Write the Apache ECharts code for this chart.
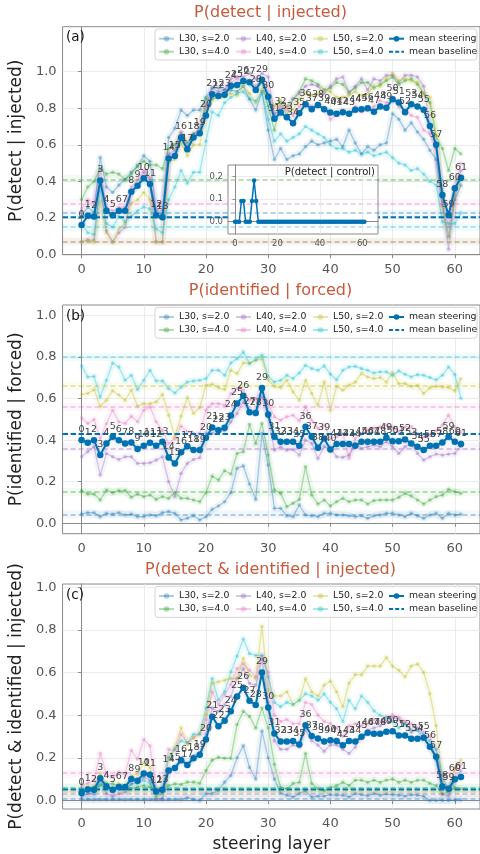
<!DOCTYPE html>
<html>
<head>
<meta charset="utf-8">
<script src="https://cdn.jsdelivr.net/npm/echarts@6/dist/echarts.min.js"></script>
<style>
  html, body { margin: 0; padding: 0; background: #ffffff; }
  #chart { width: 480px; height: 854px; }
</style>
</head>
<body>
<div id="chart"></div>
<script>
// ---- data ---------------------------------------------------------------
const layers = Array.from({ length: 62 }, (_, i) => i);
const seriesNames = ['L30, s=2.0', 'L30, s=4.0', 'L40, s=2.0', 'L40, s=4.0', 'L50, s=2.0', 'L50, s=4.0'];
const xTickLabels = [0, 10, 20, 30, 40, 50, 60];
const yTickLabels = [0, 0.2, 0.4, 0.6, 0.8, 1.0];
const insetXTickLabels = [0, 20, 40, 60];
const insetYTickLabels = [0, 0.1, 0.2];

// (a) P(detect | injected)
const detectL30s2 = [0.21,0.26,0.23,0.53,0.37,0.34,0.38,0.41,0.45,0.48, 0.54,0.51,0.24,0.22,0.64,0.69,0.79,0.76,0.79,0.79, 0.86,0.91,0.91,0.90,0.90,0.89,0.92,0.85,0.79,0.89, 0.68,0.52,0.58,0.52,0.54,0.55,0.59,0.62,0.60,0.61, 0.62,0.63,0.59,0.68,0.61,0.55,0.59,0.57,0.60,0.61, 0.77,0.74,0.68,0.72,0.67,0.63,0.57,0.52,0.27,0.10, 0.30,0.38];
const detectL30s4 = [0.30,0.37,0.40,0.47,0.44,0.45,0.44,0.41,0.44,0.49, 0.51,0.49,0.49,0.47,0.58,0.60,0.66,0.61,0.66,0.67, 0.85,0.85,0.86,0.88,0.91,0.92,0.94,0.94,0.90,0.94, 0.81,0.68,0.83,0.76,0.85,0.89,0.96,0.95,0.93,0.90, 0.91,0.94,0.93,0.89,0.91,0.94,0.94,0.91,0.93,0.95, 0.97,0.93,0.95,0.96,0.93,0.88,0.83,0.65,0.58,0.46, 0.58,0.55];
const detectL40s2 = [0.07,0.08,0.08,0.40,0.13,0.07,0.12,0.15,0.34,0.38, 0.45,0.41,0.07,0.07,0.55,0.57,0.67,0.59,0.66,0.69, 0.81,0.91,0.89,0.90,0.96,0.97,0.97,0.99,0.96,0.99, 0.97,0.77,0.79,0.81,0.85,0.88,0.92,0.93,0.92,0.88, 0.92,0.96,0.97,0.88,0.92,0.96,0.90,0.96,0.95,0.98, 0.98,0.94,0.98,0.98,0.97,0.92,0.70,0.59,0.28,0.03, 0.32,0.46];
const detectL40s4 = [0.25,0.30,0.28,0.46,0.26,0.24,0.26,0.26,0.37,0.41, 0.46,0.42,0.25,0.24,0.55,0.55,0.66,0.57,0.65,0.67, 0.81,0.89,0.88,0.88,0.94,0.96,0.96,0.95,0.92,0.96, 0.88,0.76,0.81,0.79,0.76,0.81,0.83,0.81,0.82,0.80, 0.74,0.76,0.79,0.77,0.81,0.78,0.79,0.81,0.84,0.83, 0.85,0.81,0.79,0.76,0.75,0.68,0.66,0.58,0.30,0.15, 0.35,0.50];
const detectL50s2 = [0.07,0.08,0.07,0.29,0.12,0.07,0.14,0.17,0.28,0.30, 0.34,0.30,0.07,0.07,0.50,0.52,0.61,0.54,0.60,0.60, 0.79,0.86,0.86,0.86,0.88,0.87,0.92,0.88,0.83,0.90, 0.86,0.81,0.84,0.81,0.79,0.85,0.88,0.87,0.88,0.90, 0.89,0.86,0.86,0.87,0.89,0.87,0.88,0.92,0.92,0.96, 0.99,0.95,0.96,0.95,0.94,0.88,0.86,0.65,0.26,0.10, 0.32,0.41];
const detectL50s4 = [0.17,0.12,0.11,0.35,0.17,0.15,0.21,0.18,0.21,0.24, 0.26,0.25,0.14,0.12,0.30,0.37,0.46,0.39,0.45,0.45, 0.62,0.78,0.76,0.83,0.86,0.88,0.89,0.85,0.84,0.88, 0.74,0.62,0.66,0.62,0.64,0.66,0.70,0.68,0.66,0.64, 0.60,0.58,0.58,0.56,0.57,0.55,0.56,0.54,0.55,0.56, 0.53,0.50,0.49,0.46,0.47,0.44,0.40,0.38,0.18,0.17, 0.17,0.23];
const detectMean = [0.162,0.213,0.208,0.405,0.240,0.215,0.240,0.240,0.344,0.377, 0.417,0.386,0.215,0.204,0.525,0.539,0.640,0.576,0.640,0.663, 0.760,0.876,0.867,0.874,0.922,0.927,0.949,0.942,0.900,0.955, 0.863,0.742,0.776,0.750,0.718,0.773,0.822,0.794,0.818,0.794, 0.776,0.770,0.778,0.770,0.791,0.794,0.800,0.781,0.809,0.803, 0.849,0.831,0.778,0.822,0.809,0.791,0.703,0.600,0.326,0.217, 0.363,0.420];
const detectBaseline = [0.226, 0.414, 0.071, 0.284, 0.075, 0.148];
const detectBaselineMean = 0.204;

// inset: P(detect | control)
const detectControl = [0,0,0,0.0909,0.0909,0,0,0,0.0909,0.1818, 0.0909,0,0,0,0,0,0,0,0,0, 0,0,0,0,0,0,0,0,0,0, 0,0,0,0,0,0,0,0,0,0, 0,0,0,0,0,0,0,0,0,0, 0,0,0,0,0,0,0,0,0,0, 0,0];

// (b) P(identified | forced)
const identL30s2 = [0.044,0.051,0.051,0.032,0.048,0.044,0.051,0.040,0.044,0.032, 0.032,0.040,0.036,0.051,0.056,0.048,0.016,0.024,0.036,0.016, 0.032,0.067,0.083,0.104,0.147,0.264,0.276,0.189,0.115,0.432, 0.280,0.072,0.072,0.036,0.032,0.088,0.040,0.036,0.032,0.048, 0.048,0.040,0.040,0.036,0.032,0.036,0.024,0.036,0.040,0.048, 0.048,0.040,0.032,0.048,0.036,0.024,0.040,0.048,0.024,0.048, 0.040,0.044];
const identL30s4 = [0.157,0.141,0.141,0.112,0.160,0.147,0.157,0.157,0.125,0.140, 0.128,0.136,0.115,0.128,0.120,0.147,0.120,0.120,0.112,0.104, 0.147,0.227,0.208,0.253,0.237,0.336,0.344,0.475,0.384,0.480, 0.328,0.160,0.144,0.080,0.096,0.115,0.272,0.136,0.093,0.112, 0.083,0.104,0.120,0.104,0.112,0.112,0.093,0.109,0.112,0.112, 0.112,0.125,0.144,0.131,0.112,0.093,0.112,0.128,0.136,0.163, 0.152,0.144];
const identL40s2 = [0.320,0.344,0.368,0.232,0.336,0.320,0.307,0.320,0.320,0.288, 0.288,0.291,0.304,0.320,0.200,0.128,0.240,0.288,0.307,0.315, 0.435,0.432,0.451,0.445,0.488,0.528,0.584,0.536,0.528,0.608, 0.512,0.352,0.368,0.352,0.355,0.328,0.400,0.384,0.312,0.368, 0.360,0.320,0.317,0.328,0.384,0.360,0.368,0.376,0.368,0.392, 0.368,0.336,0.368,0.381,0.336,0.304,0.320,0.333,0.328,0.333, 0.336,0.371];
const identL40s4 = [0.507,0.480,0.499,0.408,0.480,0.544,0.488,0.480,0.515,0.488, 0.544,0.560,0.488,0.448,0.384,0.408,0.467,0.440,0.432,0.432, 0.544,0.576,0.576,0.568,0.624,0.648,0.640,0.592,0.600,0.640, 0.576,0.512,0.496,0.512,0.520,0.493,0.560,0.496,0.456,0.472, 0.408,0.416,0.432,0.312,0.408,0.432,0.448,0.456,0.464,0.472, 0.459,0.440,0.464,0.464,0.432,0.416,0.424,0.445,0.472,0.520, 0.464,0.440];
const identL50s2 = [0.621,0.624,0.643,0.563,0.592,0.637,0.617,0.592,0.640,0.563, 0.576,0.576,0.584,0.620,0.520,0.416,0.515,0.605,0.528,0.557, 0.664,0.669,0.653,0.643,0.736,0.720,0.771,0.771,0.784,0.792, 0.690,0.659,0.653,0.688,0.632,0.592,0.688,0.624,0.568,0.680, 0.544,0.659,0.640,0.664,0.680,0.720,0.704,0.696,0.701,0.680, 0.723,0.672,0.672,0.659,0.663,0.624,0.652,0.659,0.656,0.653, 0.637,0.696];
const identL50s4 = [0.757,0.704,0.707,0.608,0.688,0.771,0.752,0.688,0.712,0.643, 0.688,0.736,0.685,0.685,0.648,0.627,0.656,0.680,0.685,0.688, 0.696,0.736,0.736,0.712,0.771,0.792,0.824,0.768,0.787,0.808, 0.707,0.680,0.688,0.712,0.696,0.723,0.760,0.744,0.736,0.757, 0.717,0.690,0.736,0.752,0.755,0.744,0.736,0.723,0.728,0.728, 0.712,0.733,0.717,0.704,0.715,0.712,0.701,0.690,0.712,0.752, 0.715,0.600];
const identMean = [0.401,0.387,0.400,0.328,0.384,0.416,0.400,0.384,0.389,0.357, 0.373,0.387,0.373,0.392,0.317,0.288,0.342,0.371,0.352,0.352, 0.411,0.461,0.448,0.459,0.518,0.576,0.613,0.534,0.531,0.651, 0.523,0.416,0.392,0.392,0.392,0.373,0.464,0.416,0.363,0.408, 0.355,0.381,0.381,0.381,0.373,0.392,0.392,0.392,0.392,0.411, 0.395,0.395,0.403,0.384,0.368,0.352,0.373,0.373,0.389,0.416, 0.392,0.381];
const identBaseline = [0.043, 0.150, 0.365, 0.560, 0.659, 0.800];
const identBaselineMean = 0.429;

// (c) P(detect & identified | injected)
const bothL30s2 = [0.005,0.005,0.005,0.005,0.005,0.005,0.005,0.005,0.005,0.005, 0.005,0.005,0.005,0.005,0.005,0.005,0.005,0.013,0.005,0.000, 0.032,0.032,0.047,0.086,0.117,0.200,0.256,0.155,0.101,0.325, 0.200,0.100,0.035,0.025,0.016,0.032,0.045,0.016,0.020,0.020, 0.027,0.025,0.025,0.016,0.032,0.027,0.022,0.032,0.025,0.030, 0.027,0.025,0.020,0.027,0.025,0.020,0.000,0.000,0.000,0.000, 0.003,0.003];
const bothL30s4 = [0.047,0.055,0.063,0.070,0.081,0.078,0.070,0.063,0.055,0.063, 0.070,0.063,0.047,0.055,0.070,0.078,0.075,0.086,0.086,0.081, 0.140,0.189,0.202,0.198,0.198,0.356,0.418,0.394,0.340,0.433, 0.340,0.170,0.060,0.055,0.080,0.085,0.220,0.080,0.055,0.045, 0.060,0.070,0.085,0.070,0.095,0.095,0.085,0.095,0.085,0.095, 0.100,0.085,0.095,0.085,0.095,0.095,0.080,0.070,0.030,0.040, 0.060,0.055];
const bothL40s2 = [0.016,0.032,0.029,0.094,0.032,0.019,0.032,0.039,0.078,0.086, 0.109,0.094,0.009,0.009,0.140,0.155,0.200,0.171,0.209,0.225, 0.310,0.433,0.418,0.448,0.487,0.572,0.618,0.549,0.541,0.664, 0.46,0.28,0.24,0.24,0.26,0.25,0.33,0.28,0.26,0.23, 0.26,0.26,0.24,0.22,0.25,0.30,0.33,0.34,0.35,0.37, 0.39,0.38,0.36,0.32,0.33,0.29,0.25,0.19,0.03,0.02, 0.09,0.14];
const bothL40s4 = [0.070,0.081,0.094,0.220,0.124,0.109,0.132,0.124,0.235,0.194, 0.286,0.256,0.055,0.055,0.240,0.235,0.310,0.271,0.294,0.313, 0.379,0.510,0.448,0.495,0.544,0.618,0.641,0.610,0.579,0.680, 0.60,0.40,0.37,0.38,0.36,0.36,0.46,0.45,0.40,0.37, 0.36,0.34,0.30,0.35,0.36,0.35,0.36,0.38,0.37,0.39, 0.40,0.39,0.37,0.36,0.34,0.32,0.30,0.24,0.10,0.06, 0.15,0.17];
const bothL50s2 = [0.032,0.063,0.063,0.127,0.070,0.055,0.078,0.070,0.117,0.124, 0.178,0.155,0.016,0.032,0.202,0.248,0.340,0.263,0.294,0.317, 0.402,0.549,0.556,0.564,0.572,0.572,0.667,0.587,0.572,0.816, 0.52,0.49,0.49,0.51,0.45,0.47,0.57,0.51,0.49,0.54, 0.56,0.51,0.44,0.55,0.59,0.59,0.63,0.63,0.63,0.67, 0.63,0.61,0.58,0.63,0.64,0.60,0.50,0.35,0.09,0.05, 0.15,0.19];
const bothL50s4 = [0.024,0.032,0.035,0.078,0.055,0.047,0.063,0.050,0.078,0.081, 0.094,0.081,0.024,0.032,0.200,0.240,0.279,0.271,0.310,0.310, 0.433,0.572,0.471,0.510,0.603,0.677,0.757,0.688,0.680,0.680, 0.58,0.46,0.44,0.46,0.45,0.47,0.50,0.49,0.47,0.50, 0.46,0.43,0.37,0.47,0.43,0.49,0.46,0.42,0.40,0.39, 0.37,0.34,0.36,0.33,0.33,0.31,0.28,0.24,0.12,0.04, 0.10,0.12];
const bothMean = [0.035,0.052,0.050,0.104,0.066,0.050,0.063,0.063,0.101,0.093, 0.127,0.121,0.042,0.050,0.140,0.152,0.189,0.166,0.198,0.214, 0.286,0.393,0.348,0.374,0.418,0.487,0.529,0.467,0.448,0.600, 0.436,0.314,0.276,0.276,0.279,0.263,0.353,0.302,0.291,0.276, 0.282,0.279,0.259,0.279,0.276,0.299,0.317,0.313,0.313,0.322, 0.325,0.305,0.305,0.289,0.289,0.294,0.252,0.205,0.065,0.055, 0.100,0.110];
const bothBaseline = [0.005, 0.060, 0.027, 0.125, 0.040, 0.055];
const bothBaselineMean = 0.052;

// ---- styling ------------------------------------------------------------
const FONT = 'DejaVu Sans';
const palette = ['#1f77b4', '#2ca02c', '#9467bd', '#e377c2', '#bcbd22', '#17becf'];
const MEAN_COLOR = '#0072b2';
const TITLE_COLOR = '#c55a3c';
const TICK_COLOR = '#555555';
const SPINE_COLOR = '#8a8a8a';
const GRIDLINE_COLOR = '#e6e6e6';
const X_MIN = -3.05, X_MAX = 64.05;
const CURVE_ALPHA = 0.36;

const panels = [
  { values: [detectL30s2, detectL30s4, detectL40s2, detectL40s4, detectL50s2, detectL50s4],
    mean: detectMean, base: detectBaseline, baseMean: detectBaselineMean,
    title: 'P(detect | injected)', ylabel: 'P(detect | injected)', tag: '(a)',
    top: 26.7, height: 228, ymin: 0, ymax: 1.245 },
  { values: [identL30s2, identL30s4, identL40s2, identL40s4, identL50s2, identL50s4],
    mean: identMean, base: identBaseline, baseMean: identBaselineMean,
    title: 'P(identified | forced)', ylabel: 'P(identified | forced)', tag: '(b)',
    top: 305, height: 228.7, ymin: -0.05, ymax: 1.05 },
  { values: [bothL30s2, bothL30s4, bothL40s2, bothL40s4, bothL50s2, bothL50s4],
    mean: bothMean, base: bothBaseline, baseMean: bothBaselineMean,
    title: 'P(detect & identified | injected)', ylabel: 'P(detect & identified | injected)', tag: '(c)',
    top: 584, height: 228, ymin: -0.04, ymax: 1.015 }
];

const near = (v, list) => list.some(t => Math.abs(v - t) < 1e-6);
const pairs = arr => layers.map((x, i) => [x, arr[i]]);

const grid = [], xAxis = [], yAxis = [], series = [], legend = [], graphic = [];

panels.forEach((p, k) => {
  grid.push({ left: 58, right: -3, top: p.top, height: p.height, show: true,
              borderColor: SPINE_COLOR, borderWidth: 1, backgroundColor: 'transparent' });

  xAxis.push({
    type: 'value', gridIndex: k, min: X_MIN, max: X_MAX, interval: 10,
    name: k === 2 ? 'steering layer' : '', nameLocation: 'middle', nameGap: 27,
    nameTextStyle: { fontFamily: FONT, fontSize: 17, color: '#222' },
    axisLine: { show: true, lineStyle: { color: SPINE_COLOR } },
    axisTick: { show: true, length: 3.5, lineStyle: { color: SPINE_COLOR }, customValues: xTickLabels },
    axisLabel: { fontFamily: FONT, fontSize: 13, color: TICK_COLOR, margin: 8, customValues: xTickLabels,
                 showMinLabel: true, showMaxLabel: true,
                 formatter: v => near(v, xTickLabels) ? String(Math.round(v)) : '' },
    splitLine: { show: true, lineStyle: { color: GRIDLINE_COLOR, width: 0.8 } }
  });

  yAxis.push({
    type: 'value', gridIndex: k, min: p.ymin, max: p.ymax, interval: 0.2,
    name: p.ylabel, nameLocation: 'middle', nameGap: 30,
    nameTextStyle: { fontFamily: FONT, fontSize: 17, color: '#222' },
    axisLine: { show: true, lineStyle: { color: SPINE_COLOR } },
    axisTick: { show: true, length: 3.5, lineStyle: { color: SPINE_COLOR }, customValues: yTickLabels },
    axisLabel: { fontFamily: FONT, fontSize: 13, color: TICK_COLOR, margin: 6, customValues: yTickLabels,
                 showMinLabel: true, showMaxLabel: true,
                 formatter: v => near(v, yTickLabels) ? v.toFixed(1) : '' },
    splitLine: { show: true, lineStyle: { color: GRIDLINE_COLOR, width: 0.8 } }
  });

  p.values.forEach((vals, j) => {
    const c = palette[j];
    // confidence band under each condition
    series.push({
      type: 'line', name: seriesNames[j] + ' band', xAxisIndex: k, yAxisIndex: k,
      data: pairs(vals), symbol: 'none', silent: true, z: 1, animation: false,
      lineStyle: { color: c, width: 7, opacity: 0.08, join: 'round' }
    });
    // condition curve with its own baseline
    series.push({
      type: 'line', name: seriesNames[j], xAxisIndex: k, yAxisIndex: k,
      data: pairs(vals), symbol: 'circle', symbolSize: 3.6, showSymbol: true, silent: true, z: 2,
      animation: false,
      itemStyle: { color: c, opacity: CURVE_ALPHA },
      lineStyle: { color: c, width: 1.3, opacity: CURVE_ALPHA },
      markLine: { silent: true, symbol: ['none', 'none'], animation: false, label: { show: false },
                  lineStyle: { color: c, type: [5, 3], width: 1.5, opacity: 0.45 },
                  data: [{ yAxis: p.base[j] }] },
      markArea: { silent: true, animation: false, itemStyle: { color: c, opacity: 0.06 },
                  data: [[{ yAxis: p.base[j] - 0.02 }, { yAxis: p.base[j] + 0.02 }]] }
    });
  });

  // mean over conditions
  series.push({
    type: 'line', name: 'mean steering band', xAxisIndex: k, yAxisIndex: k,
    data: pairs(p.mean), symbol: 'none', silent: true, z: 3, animation: false,
    lineStyle: { color: MEAN_COLOR, width: 7, opacity: 0.09, join: 'round' }
  });
  series.push({
    type: 'line', name: 'mean baseline', xAxisIndex: k, yAxisIndex: k,
    data: [[X_MIN, p.baseMean], [X_MAX, p.baseMean]], symbol: 'none', silent: true, z: 4,
    animation: false,
    lineStyle: { color: MEAN_COLOR, width: 2, type: [5.5, 2.5] }
  });
  series.push({
    type: 'line', name: 'mean steering', xAxisIndex: k, yAxisIndex: k,
    data: pairs(p.mean), symbol: 'circle', symbolSize: 6.5, showSymbol: true, silent: true, z: 5,
    animation: false,
    itemStyle: { color: MEAN_COLOR },
    lineStyle: { color: MEAN_COLOR, width: 2 },
    label: { show: true, position: 'top', distance: 2.5, fontFamily: FONT, fontSize: 9.5, color: '#444',
             formatter: q => String(q.value[0]) }
  });

  // legend: four columns of two rows inside a framed box
  const legendCols = [
    [seriesNames[0], seriesNames[1]],
    [seriesNames[2], seriesNames[3]],
    [seriesNames[4], seriesNames[5]],
    ['mean steering',
     { name: 'mean baseline', itemStyle: { opacity: 0 }, lineStyle: { type: [4, 2.2], width: 2 } }]
  ];
  const colLeft = [158, 235, 312, 388];
  legendCols.forEach((names, c) => {
    legend.push({
      data: names, orient: 'vertical', left: colLeft[c], top: p.top + 7, padding: 0,
      itemWidth: 15, itemHeight: 7, itemGap: 3, selectedMode: false, z: 20,
      textStyle: { fontFamily: FONT, fontSize: 9.3, color: '#222', lineHeight: 10 }
    });
  });
  graphic.push({
    type: 'rect', z: 15, silent: true,
    shape: { x: 155, y: p.top + 2.3, width: 322, height: 31, r: 3 },
    style: { fill: 'rgba(255,255,255,0.82)', stroke: '#d4d4d4', lineWidth: 1 }
  });
  graphic.push({
    type: 'text', z: 20, silent: true, x: 66, y: p.top + 11,
    style: { text: p.tag, fontFamily: FONT, fontSize: 13.5, fill: '#111', align: 'left', verticalAlign: 'middle' }
  });
  graphic.push({
    type: 'text', z: 20, silent: true, x: 270.5, y: p.top - 14,
    style: { text: p.title, fontFamily: FONT, fontSize: 16, fill: TITLE_COLOR, align: 'center', verticalAlign: 'middle' }
  });
});

// inset: detection rate on control trials
grid.push({ left: 228, top: 165, width: 150, height: 69, show: true, z: 5,
            borderColor: SPINE_COLOR, borderWidth: 1, backgroundColor: '#ffffff' });
xAxis.push({
  type: 'value', gridIndex: 3, min: -3.3, max: 67.4, interval: 20, z: 6,
  axisLine: { show: true, lineStyle: { color: SPINE_COLOR } },
  axisTick: { show: true, length: 2.5, lineStyle: { color: SPINE_COLOR }, customValues: insetXTickLabels },
  axisLabel: { fontFamily: FONT, fontSize: 8.5, color: TICK_COLOR, margin: 5, customValues: insetXTickLabels,
               formatter: v => near(v, insetXTickLabels) ? String(Math.round(v)) : '' },
  splitLine: { show: true, lineStyle: { color: GRIDLINE_COLOR, width: 0.8 } }
});
yAxis.push({
  type: 'value', gridIndex: 3, min: -0.054, max: 0.25, interval: 0.1, z: 6,
  axisLine: { show: true, lineStyle: { color: SPINE_COLOR } },
  axisTick: { show: true, length: 2.5, lineStyle: { color: SPINE_COLOR }, customValues: insetYTickLabels },
  axisLabel: { fontFamily: FONT, fontSize: 8.5, color: TICK_COLOR, margin: 5, customValues: insetYTickLabels,
               formatter: v => near(v, insetYTickLabels) ? v.toFixed(1) : '' },
  splitLine: { show: true, lineStyle: { color: GRIDLINE_COLOR, width: 0.8 } }
});
series.push({
  type: 'line', name: 'P(detect | control)', xAxisIndex: 3, yAxisIndex: 3,
  data: pairs(detectControl), symbol: 'circle', symbolSize: 4.5, showSymbol: true, silent: true, z: 7,
  animation: false,
  itemStyle: { color: MEAN_COLOR }, lineStyle: { color: MEAN_COLOR, width: 1.5 }
});
graphic.push({
  type: 'text', z: 20, silent: true, x: 375, y: 172,
  style: { text: 'P(detect | control)', fontFamily: FONT, fontSize: 10, fill: '#222', align: 'right', verticalAlign: 'middle' }
});

const chart = echarts.init(document.getElementById('chart'), null, { renderer: 'canvas' });
chart.setOption({
  animation: false,
  backgroundColor: '#ffffff',
  textStyle: { fontFamily: FONT },
  grid, xAxis, yAxis, series, legend, graphic
});
</script>
</body>
</html>
